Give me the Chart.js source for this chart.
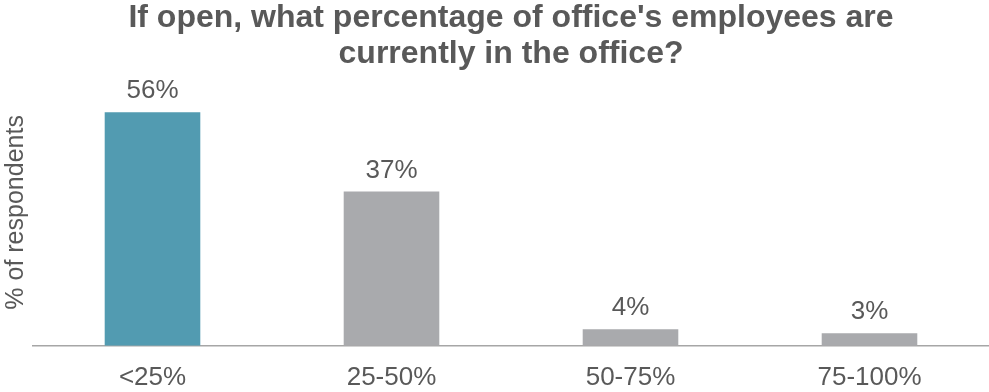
<!DOCTYPE html>
<html>
<head>
<meta charset="utf-8">
<script src="https://cdn.jsdelivr.net/npm/chart.js@4.4.1/dist/chart.umd.min.js"></script>
<style>
  html,body{margin:0;padding:0;background:#fff;}
  #wrap{width:989px;height:392px;position:relative;}
</style>
</head>
<body>
<div id="wrap"><canvas id="c_office"></canvas></div>
<script>
Chart.defaults.font.family="'Liberation Sans',Arial,sans-serif";
Chart.defaults.color='#595959';

const categories = ['<25%','25-50%','50-75%','75-100%'];
const shares = [56,37,4,3];
const titleLines = ["If open, what percentage of office's employees are",'currently in the office?'];

// value text above each bar
const barLabels = {
  id:'barLabels',
  afterDatasetsDraw(chart){
    const {ctx} = chart;
    const meta = chart.getDatasetMeta(0);
    ctx.save();
    ctx.font = "26px 'Liberation Sans',Arial,sans-serif";
    ctx.fillStyle = '#595959';
    ctx.textAlign = 'center';
    ctx.textBaseline = 'alphabetic';
    meta.data.forEach((bar,i)=>{
      ctx.fillText(shares[i]+'%', bar.x, bar.y-14);
    });
    ctx.restore();
  }
};

new Chart(document.getElementById('c_office'),{
  type:'bar',
  data:{
    labels:categories,
    datasets:[{
      data:shares,
      backgroundColor:['#529bb1','#a9aaad','#a9aaad','#a9aaad'],
      borderWidth:0,
      barPercentage:0.4,
      categoryPercentage:1.0
    }]
  },
  options:{
    responsive:true,maintainAspectRatio:false,
    animation:false,
    layout:{padding:{left:0,right:0,top:0,bottom:-17}},
    plugins:{
      legend:{display:false},
      tooltip:{enabled:false},
      title:{
        display:true,
        fullSize:false,
        text:titleLines,
        color:'#595959',
        font:{size:32,weight:'bold',lineHeight:1.125},
        padding:{top:0,bottom:7}
      }
    },
    scales:{
      x:{
        grid:{display:false,drawTicks:false},
        border:{display:true,color:'#a6a6a6',width:1.5},
        ticks:{font:{size:26},color:'#595959',padding:16}
      },
      y:{
        min:0,max:64,
        grid:{display:false,drawTicks:false},
        border:{display:false},
        ticks:{display:false},
        title:{
          display:true,
          text:'% of respondents',
          color:'#595959',
          font:{size:25},
          padding:{top:1,bottom:2}
        }
      }
    }
  },
  plugins:[barLabels]
});
</script>
</body>
</html>
